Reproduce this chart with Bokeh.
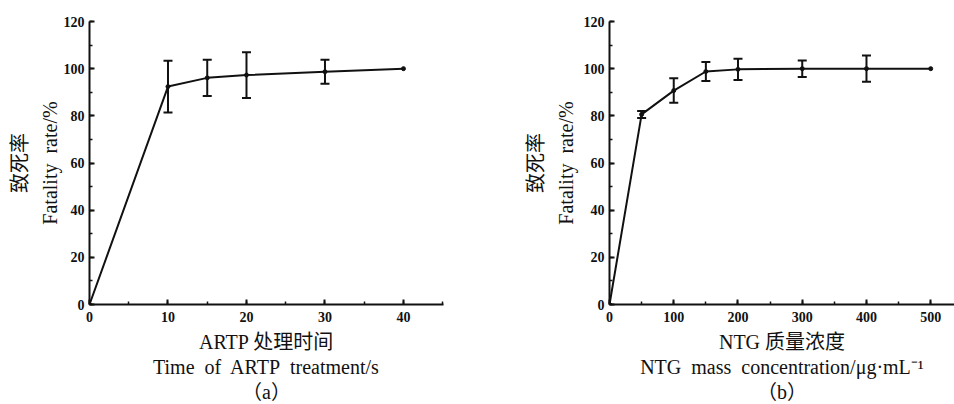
import math
from bokeh.plotting import figure
from bokeh.layouts import row
from bokeh.models import (ColumnDataSource, Whisker, TeeHead,
                          SingleIntervalTicker, Range1d)
from bokeh.embed import file_html
from bokeh.resources import INLINE

# ---- data ----
time_s = [0, 10, 15, 20, 30, 40]
fatality_a = [0, 92.4, 96.1, 97.3, 98.7, 100]
err_a = [0, 11.0, 7.7, 9.7, 5.1, 0]

ntg_conc = [0, 50, 100, 150, 200, 300, 400, 500]
fatality_b = [0, 80.6, 90.7, 98.8, 99.7, 100, 100, 100]
err_b = [0, 1.5, 5.2, 4.0, 4.5, 3.5, 5.6, 0]

SP = "\u00a0 "
y_label = "致死率\nFatality" + SP + "rate/%"
xa_label = "ARTP 处理时间\nTime" + SP + "of" + SP + "ARTP" + SP + "treatment/s\n（a）"
xb_label = "NTG 质量浓度\nNTG" + SP + "mass" + SP + "concentration/μg·mL⁻¹\n（b）"

FONT = "Liberation Serif, Noto Sans CJK SC"
INK = "#111111"


def make_panel(x, y, err, xmax, xint, width, mb_left, mb_right, mb_top,
               xlabel, ylab_standoff):
    p = figure(width=width, frame_height=283, output_backend="svg", toolbar_location=None,
               x_range=Range1d(0, xmax), y_range=Range1d(0, 120),
               min_border_left=mb_left, min_border_right=mb_right,
               min_border_top=mb_top, min_border_bottom=10)
    p.outline_line_color = None
    p.grid.visible = False
    p.background_fill_color = "white"
    p.border_fill_color = "white"

    for ax, iv in ((p.xaxis[0], xint), (p.yaxis[0], 20)):
        ax.ticker = SingleIntervalTicker(interval=iv, num_minor_ticks=2)
        ax.axis_line_width = 2
        ax.axis_line_color = INK
        ax.major_tick_in = 5
        ax.major_tick_out = 0
        ax.minor_tick_in = 3
        ax.minor_tick_out = 0
        ax.major_tick_line_width = 2
        ax.minor_tick_line_width = 1.5
        ax.major_tick_line_color = INK
        ax.minor_tick_line_color = INK
        ax.major_label_text_font = "Liberation Serif"
        ax.major_label_text_font_style = "bold"
        ax.major_label_text_font_size = "14px"
        ax.major_label_text_color = INK
        ax.axis_label_text_font = FONT
        ax.axis_label_text_font_style = "normal"
        ax.axis_label_text_font_size = "20px"
        ax.axis_label_text_color = INK
    p.xaxis.major_label_standoff = 7
    p.yaxis.major_label_standoff = 5
    p.xaxis.axis_label = xlabel
    p.xaxis.axis_label_text_line_height = 1.15
    p.xaxis.axis_label_standoff = 6
    p.yaxis.axis_label = y_label
    p.yaxis.axis_label_text_line_height = 1.33
    p.yaxis.axis_label_standoff = ylab_standoff

    src = ColumnDataSource(dict(x=x, y=y))
    p.line("x", "y", source=src, line_width=2, line_color=INK)
    p.scatter("x", "y", source=src, size=4, color=INK)

    wx = [xi for xi, e in zip(x, err) if e > 0]
    wl = [yi - e for yi, e in zip(y, err) if e > 0]
    wu = [yi + e for yi, e in zip(y, err) if e > 0]
    wsrc = ColumnDataSource(dict(base=wx, lower=wl, upper=wu))
    p.add_layout(Whisker(source=wsrc, base="base", lower="lower", upper="upper",
                         line_width=2, line_color=INK,
                         upper_head=TeeHead(size=9, line_width=2, line_color=INK),
                         lower_head=TeeHead(size=9, line_width=2, line_color=INK)))
    return p


pa = make_panel(time_s, fatality_a, err_a, 45.1, 10, 477, 89, 34, 21, xa_label, 0)
pb = make_panel(ntg_conc, fatality_b, err_b, 537, 100, 477, 132, 0, 18, xb_label, 4)

layout = row(pa, pb)
open("out.html", "w").write(file_html(layout, INLINE))
